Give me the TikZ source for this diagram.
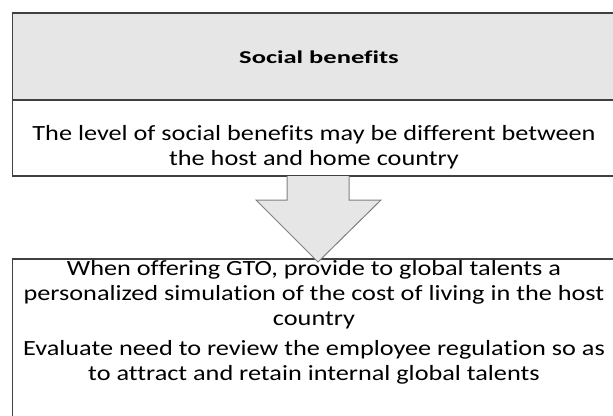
\documentclass[tikz,border=0pt]{standalone}
\usepackage{graphicx}
\usepackage{fontspec}
\setmainfont{Carlito}[Ligatures=NoCommon,FakeStretch=1.21]
\definecolor{boxgray}{HTML}{E7E6E6}
\definecolor{edge}{HTML}{404040}
\definecolor{arrowedge}{HTML}{808080}
\begin{document}
\begin{tikzpicture}[x=1pt,y=-1pt,
  txt/.style={align=center,font=\fontsize{21.7}{25.2}\selectfont,inner sep=0pt},
  boxline/.style={draw=edge,line width=1.2pt}]
\useasboundingbox (0,0) rectangle (613,415);
% top box
\fill[boxgray] (12.5,13) rectangle (616,100);
\draw[boxline] (12.5,13) rectangle (616,100);
\draw[boxline] (12.5,100) rectangle (616,176);
\node[txt,font=\bfseries\fontsize{18.1}{22}\selectfont] (title) at (319,57) {\scalebox{1.21}[1]{Social benefits}};
\node[txt] (desc) at (314,147) {The level of social benefits may be different between\\the host and home country};
% bottom box
\draw[boxline] (12.5,259) rectangle (616,425);
% block arrow
\draw[fill=boxgray,draw=arrowedge,line width=1pt,line join=miter]
  (287,176) -- (287,200) -- (256,200) -- (318,262) -- (381,200) -- (349,200) -- (349,176);
\node[txt] (act1) at (314,295) {When offering GTO, provide to global talents a\\personalized simulation of the cost of living in the host\\country};
\node[txt] (act2) at (314,362) {Evaluate need to review the employee regulation so as\\to attract and retain internal global talents};
\end{tikzpicture}
\end{document}
